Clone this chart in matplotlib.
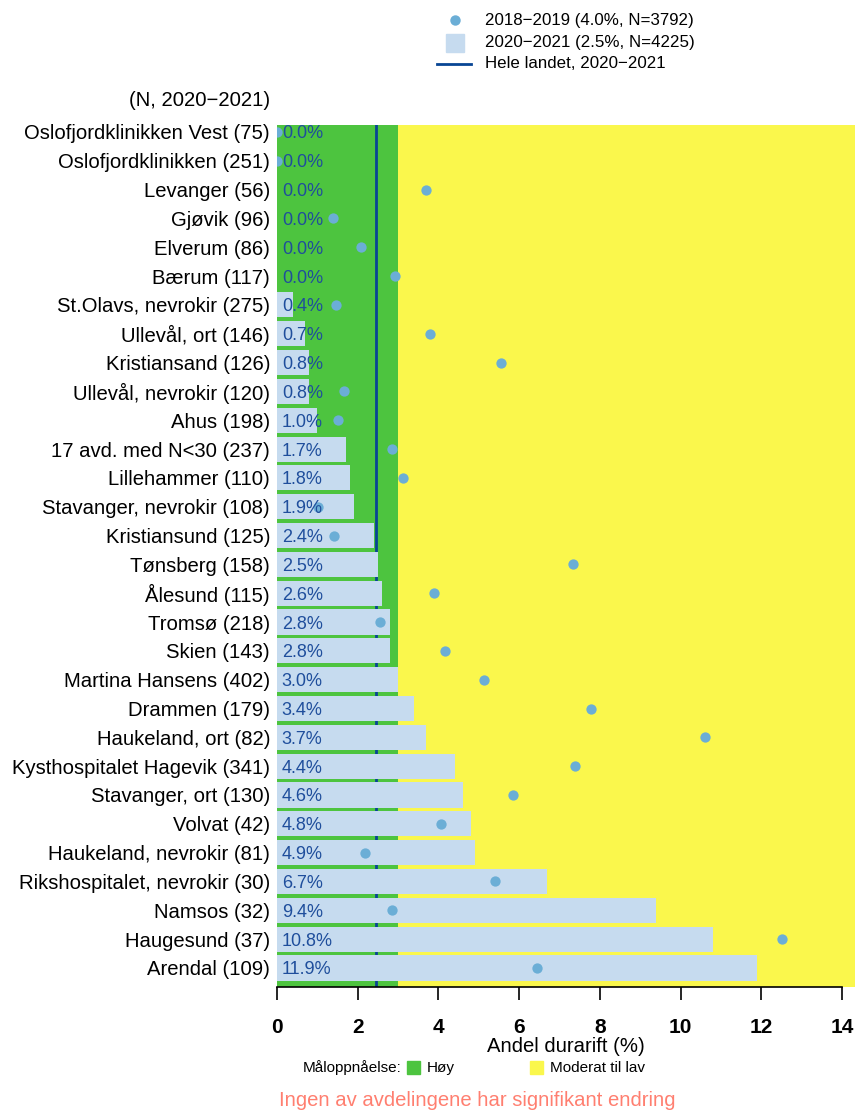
import matplotlib.pyplot as plt

plt.rcParams['font.family'] = ['Liberation Sans', 'DejaVu Sans']

# departments and N for 2020-2021
units = ["Oslofjordklinikken Vest", "Oslofjordklinikken", "Levanger", "Gjøvik", "Elverum",
         "Bærum", "St.Olavs, nevrokir", "Ullevål, ort", "Kristiansand", "Ullevål, nevrokir",
         "Ahus", "17 avd. med N<30", "Lillehammer", "Stavanger, nevrokir", "Kristiansund",
         "Tønsberg", "Ålesund", "Tromsø", "Skien", "Martina Hansens", "Drammen",
         "Haukeland, ort", "Kysthospitalet Hagevik", "Stavanger, ort", "Volvat",
         "Haukeland, nevrokir", "Rikshospitalet, nevrokir", "Namsos", "Haugesund", "Arendal"]
n2021 = [75, 251, 56, 96, 86, 117, 275, 146, 126, 120, 198, 237, 110, 108, 125, 158, 115,
         218, 143, 402, 179, 82, 341, 130, 42, 81, 30, 32, 37, 109]
# andel durarift (%)
pct2021 = [0.0, 0.0, 0.0, 0.0, 0.0, 0.0, 0.4, 0.7, 0.8, 0.8, 1.0, 1.7, 1.8, 1.9, 2.4, 2.5,
           2.6, 2.8, 2.8, 3.0, 3.4, 3.7, 4.4, 4.6, 4.8, 4.9, 6.7, 9.4, 10.8, 11.9]
pct1819 = [0.0, 0.0, 3.69, 1.39, 2.08, 2.92, 1.46, 3.79, 5.55, 1.66, 1.51, 2.85, 3.12, 1.02,
           1.41, 7.33, 3.89, 2.55, 4.16, 5.13, 7.78, 10.6, 7.38, 5.85, 4.06, 2.18, 5.40, 2.85,
           12.51, 6.44]
national = 2.46
targetHigh = 3.0

W, H = 856, 1113
fig = plt.figure(figsize=(W / 100, H / 100), dpi=100)
ax = fig.add_axes([277 / W, 1 - 987 / H, (855 - 277) / W, (987 - 125) / H])

rows = list(range(len(units)))
xmax = 14.32
ax.set_xlim(0, xmax)
ax.set_ylim(len(units) - 1 + 0.66, -0.24)

green = '#4dc43f'
yellow = '#faf74c'
barColor = '#c6dbef'
dotColor = '#6baed6'
lineColor = '#084594'
textColor = '#1f4e9c'

ax.axvspan(0, targetHigh, color=green, zorder=0, lw=0)
ax.axvspan(targetHigh, xmax, color=yellow, zorder=0, lw=0)
ax.axvline(national, color=lineColor, lw=2, zorder=1)
ax.barh(rows, pct2021, height=0.87, color=barColor, zorder=2)
ax.scatter(pct1819, rows, s=55, color=dotColor, zorder=3, lw=0)
for r, p in zip(rows, pct2021):
    ax.text(0.12, r, f"{p:.1f}%", color=textColor, fontsize=13, va='center_baseline',
            ha='left', zorder=4)

for s in ['top', 'right', 'left']:
    ax.spines[s].set_visible(False)
ax.spines['bottom'].set_bounds(0, 14)
ax.spines['bottom'].set_linewidth(1.2)

ax.set_yticks(rows)
ax.set_yticklabels([f"{u} ({n})" for u, n in zip(units, n2021)], fontsize=14.6)
ax.tick_params(axis='y', length=0, pad=5)
ax.set_xticks(range(0, 15, 2))
ax.tick_params(axis='x', length=9, width=1.2, pad=13, labelsize=15)
for lbl in ax.get_xticklabels():
    lbl.set_fontweight('bold')
ax.set_xlabel("Andel durarift (%)", fontsize=14.6, labelpad=0)

fig.text(270 / W, 1 - 100 / H, "(N, 2020\u22122021)", ha='right', va='center', fontsize=14.6)

# top legend
fig.lines.append(plt.Line2D([455 / W], [1 - 20 / H], transform=fig.transFigure, marker='o',
                            ms=7.5, mew=0, color=dotColor, figure=fig))
fig.patches.append(plt.Rectangle((446 / W, 1 - 52 / H), 18 / W, 18 / H, transform=fig.transFigure,
                                 color=barColor, figure=fig))
fig.lines.append(plt.Line2D([437 / W, 471 / W], [1 - 64 / H, 1 - 64 / H], transform=fig.transFigure,
                            color=lineColor, lw=2, figure=fig))
legendTexts = ["2018\u22122019 (4.0%, N=3792)", "2020\u22122021 (2.5%, N=4225)", "Hele landet, 2020\u22122021"]
for t, y in zip(legendTexts, [20, 42, 63]):
    fig.text(485 / W, 1 - y / H, t, ha='left', va='center', fontsize=12.2)

# bottom legend
fig.text(303 / W, 1 - 1068 / H, "Måloppnåelse:", ha='left', va='center', fontsize=11)
fig.patches.append(plt.Rectangle((407 / W, 1 - 1074 / H), 13 / W, 13 / H, transform=fig.transFigure,
                                 color=green, figure=fig))
fig.text(427 / W, 1 - 1068 / H, "Høy", ha='left', va='center', fontsize=11)
fig.patches.append(plt.Rectangle((530 / W, 1 - 1074 / H), 13 / W, 13 / H, transform=fig.transFigure,
                                 color=yellow, figure=fig))
fig.text(550 / W, 1 - 1068 / H, "Moderat til lav", ha='left', va='center', fontsize=11)

fig.text(477 / W, 1 - 1100 / H, "Ingen av avdelingene har signifikant endring", ha='center',
         va='center', fontsize=14.6, color='#ff7f70')

fig.savefig("out.png", dpi=100)
